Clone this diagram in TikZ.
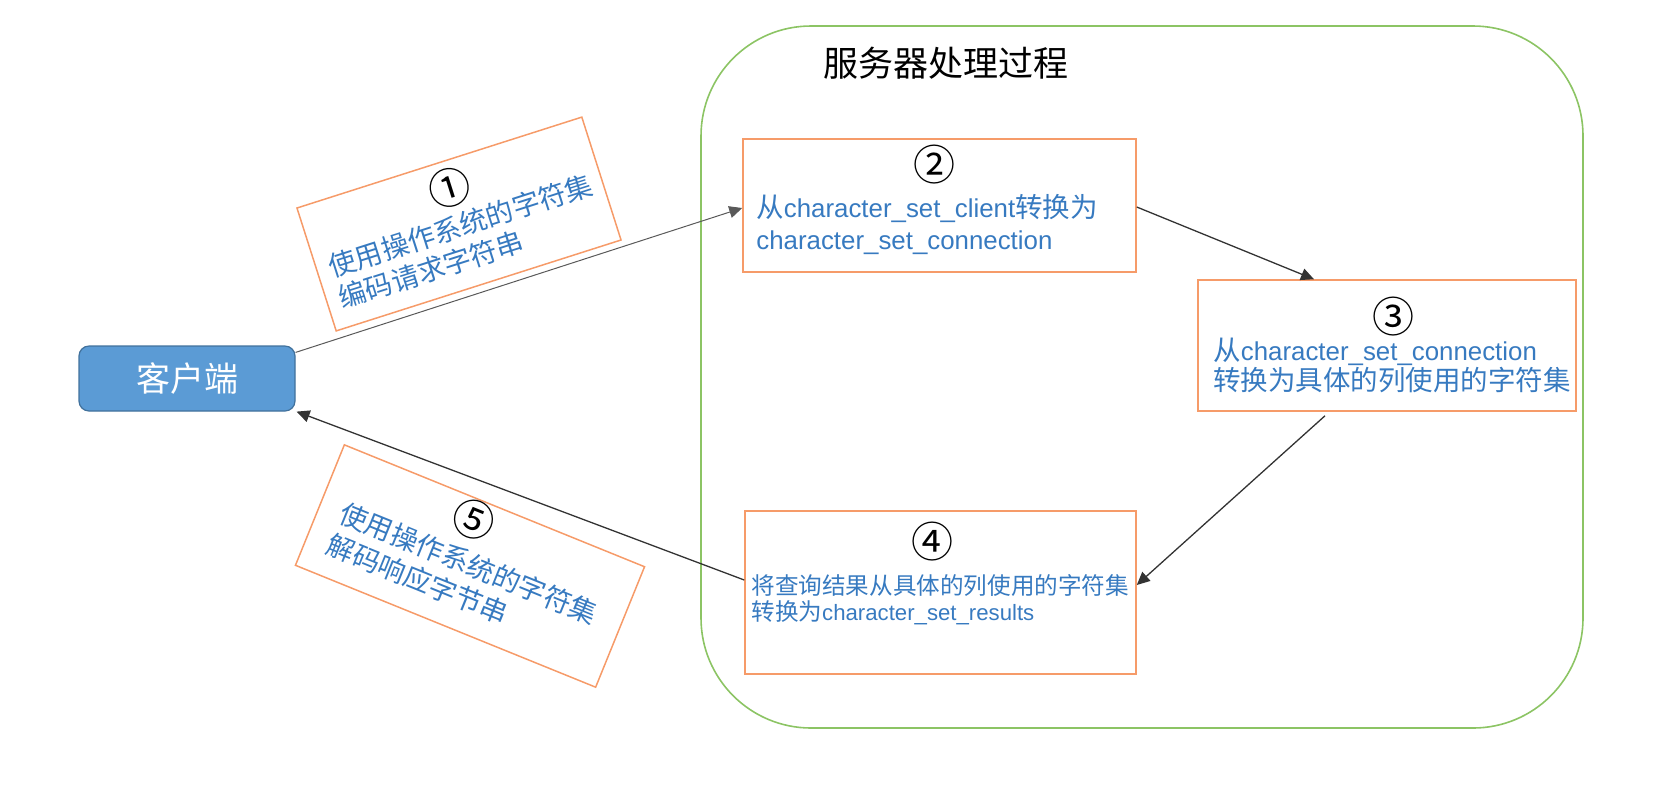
\documentclass[tikz,border=0pt]{standalone}
\usepackage{fontspec}
\setmainfont{Liberation Sans}[Scale=0.94]
\newfontfamily\cjk{Noto Sans CJK SC}
\usetikzlibrary{arrows.meta}
\definecolor{txtblue}{RGB}{55,122,192}
\definecolor{boxorange}{RGB}{246,155,105}
\definecolor{srvgreen}{RGB}{140,196,100}
\definecolor{clientfill}{RGB}{91,155,213}
\definecolor{clientdraw}{RGB}{65,113,156}
\newcommand\zh[1]{{\cjk #1}}
\tikzset{
  stepbox/.style={draw=boxorange, line width=0.75pt, inner sep=0pt},
  numlbl/.style={font=\cjk\fontsize{21pt}{21pt}\selectfont, inner sep=0pt, text=black},
  bigtxt/.style={font=\fontsize{13.75pt}{16pt}\selectfont, text=txtblue, inner sep=0pt, anchor=base west},
  smalltxt/.style={font=\fontsize{11.8pt}{14pt}\selectfont, text=txtblue, inner sep=0pt, anchor=base west},
  arr/.style={-{Triangle[length=6.5pt,width=6pt]}, line width=0.65pt, draw=black!80},
}
\begin{document}
\begin{tikzpicture}[x=0.5pt,y=-0.5pt]
\useasboundingbox (0,0) rectangle (1668,794);
% server container
\node[draw=srvgreen, line width=0.8pt, rounded corners=55pt, minimum width=441pt, minimum height=351pt, inner sep=0pt] (server) at (1142,377) {};
\node[font=\cjk\fontsize{17.5pt}{20pt}\selectfont, inner sep=0pt] (title) at (946,63) {服务器处理过程};
% client
\node[fill=clientfill, draw=clientdraw, line width=0.6pt, rounded corners=5pt, minimum width=108pt, minimum height=32.5pt, inner sep=0pt, text=white, font=\cjk\fontsize{17pt}{20pt}\selectfont] (client) at (187,378.5) {客户端};
% box 2
\node[stepbox, minimum width=196.5pt, minimum height=66.5pt] (b2) at (939.5,205.5) {};
\node[numlbl] (n2) at (934,165) {②};
\node[bigtxt] (t2a) at (756,217.5) {\zh{从}character\_set\_client\zh{转换为}};
\node[bigtxt] (t2b) at (756,249) {character\_set\_connection};
% box 3
\node[stepbox, minimum width=189pt, minimum height=65.5pt] (b3) at (1387,345.5) {};
\node[numlbl] (n3) at (1393,317) {③};
\node[bigtxt] (t3a) at (1213,360.5) {\zh{从}character\_set\_connection};
\node[bigtxt] (t3b) at (1213,390.5) {\zh{转换为具体的列使用的字符集}};
% box 4
\node[stepbox, minimum width=195.5pt, minimum height=81.5pt] (b4) at (940.5,592.5) {};
\node[numlbl] (n4) at (932,542) {④};
\node[smalltxt] (t4a) at (751,594) {\zh{将查询结果从具体的列使用的字符集}};
\node[smalltxt] (t4b) at (751,620) {\zh{转换为}character\_set\_results};
% box 1 (rotated)
\begin{scope}[shift={(459,224)}, rotate=17.7, transform shape]
  \node[stepbox, minimum width=149.5pt, minimum height=64.5pt] (b1) at (0,0) {};
  \node[numlbl] (n1) at (2,-37) {①};
  \node[bigtxt] (t1a) at (-137,12.5) {\zh{使用操作系统的字符集}};
  \node[bigtxt] (t1b) at (-137,45.5) {\zh{编码请求字符串}};
\end{scope}
% box 5 (rotated)
\begin{scope}[shift={(470,566)}, rotate=-22.1, transform shape]
  \node[stepbox, minimum width=162pt, minimum height=65pt] (b5) at (0,0) {};
  \node[numlbl] (n5) at (-14,-44) {⑤};
  \node[bigtxt] (t5a) at (-140,8.5) {\zh{使用操作系统的字符集}};
  \node[bigtxt] (t5b) at (-140,42.5) {\zh{解码响应字节串}};
\end{scope}
% connectors
\draw[arr, line width=0.5pt, draw=black!65] ([yshift=-3.5pt]client.north east) -- ([yshift=-1.25pt]b2.west);
\draw[arr] ([yshift=-0.75pt]b2.east) -- ([xshift=-36.5pt]b3.north);
\draw[arr] ([xshift=-31pt,yshift=-2pt]b3.south) -- ([yshift=3.75pt]b4.east);
\draw[arr] ([yshift=6.25pt]b4.west) -- ([xshift=0.5pt]client.south east);
\end{tikzpicture}
\end{document}
